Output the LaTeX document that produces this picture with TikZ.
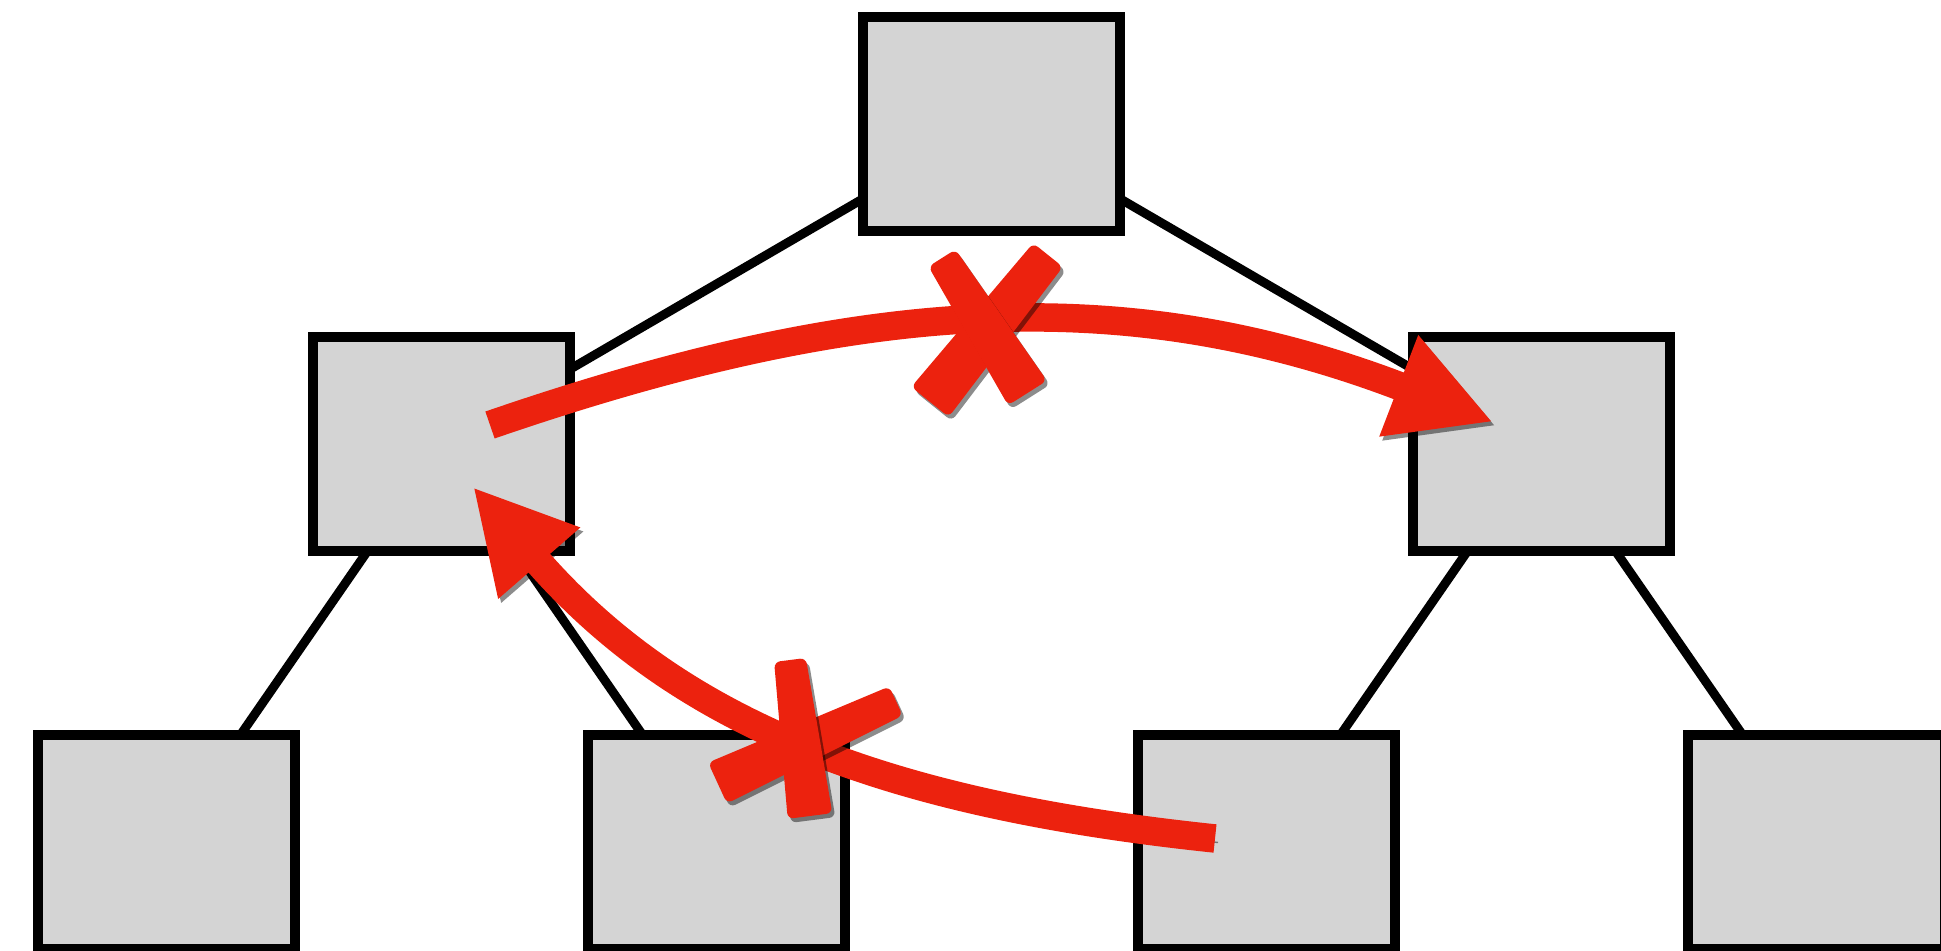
\documentclass[tikz,border=0pt]{standalone}
\usepackage{tikz}
\usetikzlibrary{arrows.meta,positioning,calc,backgrounds}
\definecolor{boxgray}{RGB}{212,212,212}
\definecolor{markred}{RGB}{236,34,14}
\newcommand{\brush}[4]{\fill[tape] ($#1!#3cm!90:#2$) -- ($#1!#3cm!-90:#2$) -- ($#2!#4cm!90:#1$) -- ($#2!#4cm!-90:#1$) -- cycle;}

\begin{document}
\begin{tikzpicture}[
box/.style={draw,line width=1.05mm,fill=boxgray,minimum width=2.57cm,minimum height=2.14cm,inner sep=0pt},
edge/.style={line width=0.9mm},
arr/.style={draw=markred,line width=2.85mm,-{Triangle[length=10.1mm,width=10.1mm]},
  preaction={draw=black,opacity=.45,transform canvas={shift={(.3mm,-.4mm)}}}},
tape/.style={fill=markred,rounded corners=.6mm,preaction={fill=black,opacity=.45,transform canvas={shift={(.3mm,-.4mm)}}}},
node distance=3.2cm and 5.5cm,on grid]
\useasboundingbox (0,0) rectangle (19.41,-9.51);
\node[box] (t) at (9.915,-1.24) {};
\node[box,below left=of t] (a) {};
\node[box,below right=of t] (b) {};
\node[box,below left=3.98cm and 2.75cm of a] (a1) {};
\node[box,below right=3.98cm and 2.75cm of a] (a2) {};
\node[box,below left=3.98cm and 2.75cm of b] (b1) {};
\node[box,below right=3.98cm and 2.75cm of b] (b2) {};
\begin{scope}[on background layer]
\draw[edge] (t.center)--(a.center);\draw[edge] (t.center)--(b.center);
\draw[edge] (a.center)--(a1.center);\draw[edge] (a.center)--(a2.center);
\draw[edge] (b.center)--(b1.center);\draw[edge] (b.center)--(b2.center);
\end{scope}
% the two moves, both crossed out
\draw[arr] ([shift={(.485,.19)}]a.center) to[out=19,in=159] ([shift={(-.485,.22)}]b.center);
\draw[arr] ([shift={(-.515,.035)}]b1.center) to[out=174,in=-49] ([shift={(.315,-.43)}]a.center);
\brush{(9.30,-4.02)}{(10.48,-2.55)}{.24}{.19}
\brush{(10.275,-3.93)}{(9.42,-2.58)}{.23}{.16}
\brush{(7.175,-7.83)}{(8.96,-7.01)}{.225}{.16}
\brush{(8.10,-8.16)}{(7.90,-6.60)}{.225}{.16}
\end{tikzpicture}
\end{document}
